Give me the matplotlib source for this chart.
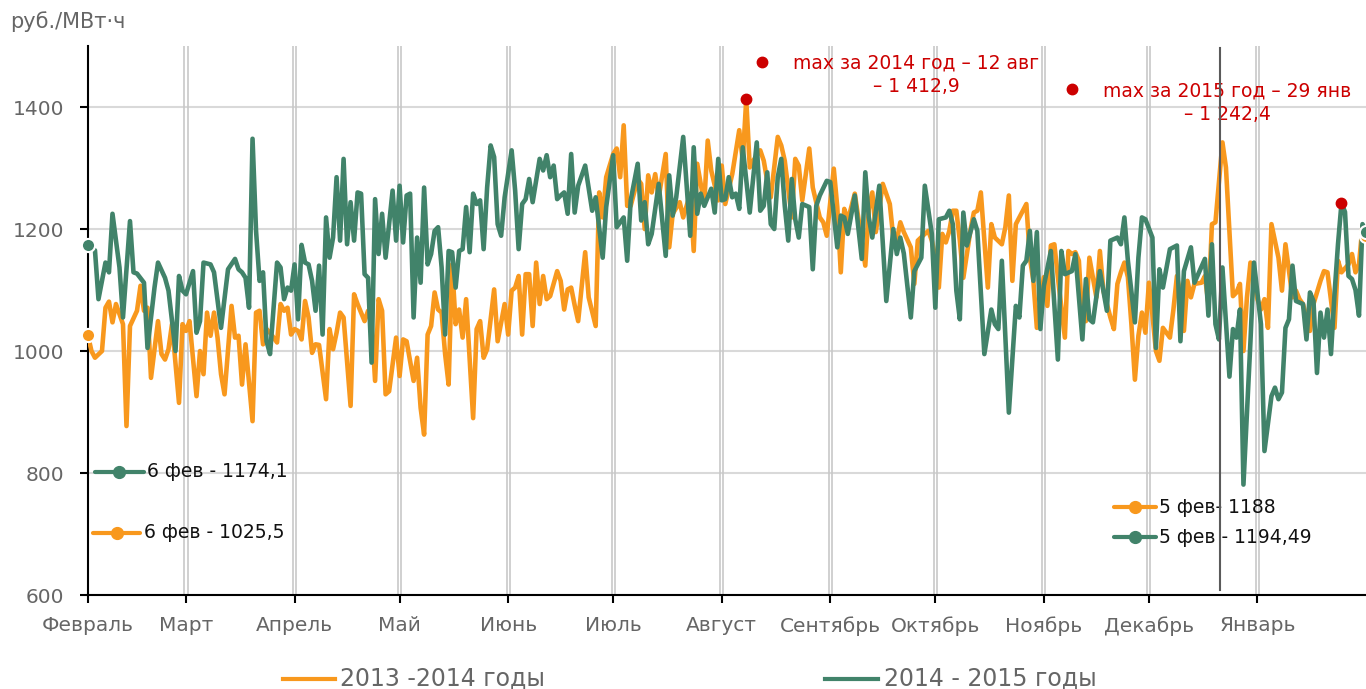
import matplotlib
matplotlib.use("Agg")
import matplotlib.pyplot as plt
import numpy as np
import pandas as pd

plt.rcParams['font.family'] = ['DejaVu Sans']

# day offsets from 6 Feb and prices, руб./МВт·ч
orange_days = [0, 1, 2, 4, 5, 6, 7, 8, 10, 11, 12, 14, 15, 16, 17, 18, 20, 21, 22, 23, 24, 26, 27, 28, 29,
               31, 32, 33, 34, 35, 36, 37, 38, 39, 41, 42, 43, 44, 45, 47, 48, 49, 50, 51, 52, 54, 55, 56,
               57, 58, 59, 60, 61, 62, 63, 64, 65, 66, 68, 69, 70, 71, 72, 73, 75, 76, 77, 79, 80, 81, 82,
               83, 84, 85, 86, 88, 89, 90, 91, 93, 94, 95, 96, 97, 98, 99, 100, 101, 102, 103, 104, 105,
               106, 107, 108, 110, 111, 112, 113, 114, 116, 117, 118, 119, 120, 121, 122, 123, 124, 125,
               126, 127, 128, 129, 130, 131, 132, 134, 135, 136, 137, 138, 139, 140, 142, 143, 145, 146,
               147, 148, 150, 151, 152, 153, 154, 155, 157, 158, 159, 160, 161, 162, 163, 165, 166, 167,
               169, 170, 172, 173, 174, 176, 177, 178, 180, 181, 182, 184, 186, 187, 188, 189, 190, 192,
               193, 194, 195, 197, 198, 199, 201, 202, 203, 204, 206, 207, 209, 210, 211, 213, 214, 215,
               216, 217, 219, 220, 222, 223, 224, 225, 227, 229, 230, 231, 232, 233, 235, 236, 237, 239,
               240, 241, 242, 243, 244, 245, 246, 247, 248, 249, 250, 252, 253, 254, 255, 257, 258, 259,
               261, 262, 263, 264, 265, 267, 268, 269, 270, 271, 273, 274, 275, 276, 277, 279, 280, 281,
               282, 283, 284, 285, 286, 287, 288, 289, 290, 292, 293, 294, 295, 296, 297, 298, 299, 300,
               301, 302, 303, 304, 305, 306, 307, 309, 310, 311, 312, 313, 314, 315, 316, 318, 319, 320,
               321, 322, 324, 325, 326, 327, 328, 329, 330, 331, 332, 334, 335, 336, 337, 338, 340, 341,
               342, 344, 345, 346, 347, 349, 350, 352, 353, 354, 356, 357, 358, 360, 361, 362, 363, 364, 365]
orange_vals = [1025.5, 1000, 989, 1000, 1071, 1081, 1047, 1077, 1044, 877, 1041, 1066, 1107, 1066, 1071, 956,
               1049, 995, 986, 1003, 1044, 915, 1044, 1033, 1049, 926, 1000, 962, 1063, 1025, 1063, 1022,
               962, 929, 1074, 1022, 1025, 945, 1011, 885, 1063, 1066, 1011, 1036, 1030, 1014, 1077, 1066,
               1071, 1027, 1036, 1033, 1019, 1082, 1055, 997, 1011, 1010, 921, 1036, 1003, 1030, 1063, 1055,
               910, 1093, 1077, 1049, 1066, 1049, 951, 1085, 1066, 929, 934, 1022, 959, 1019, 1016, 951,
               989, 907, 863, 1027, 1041, 1096, 1068, 1063, 995, 945, 1142, 1044, 1068, 1022, 1085, 890,
               1036, 1049, 989, 1003, 1101, 1016, 1047, 1077, 1027, 1099, 1104, 1123, 1027, 1126, 1126,
               1041, 1145, 1077, 1123, 1085, 1090, 1131, 1115, 1068, 1101, 1104, 1075, 1049, 1162, 1088,
               1041, 1260, 1219, 1285, 1323, 1332, 1285, 1370, 1238, 1238, 1282, 1274, 1200, 1288, 1260,
               1290, 1252, 1323, 1170, 1225, 1244, 1219, 1258, 1164, 1307, 1241, 1345, 1296, 1247, 1304,
               1241, 1290, 1362, 1312, 1412.9, 1301, 1312, 1329, 1312, 1279, 1252, 1351, 1337, 1312, 1219,
               1315, 1304, 1247, 1332, 1268, 1219, 1211, 1189, 1299, 1236, 1129, 1233, 1214, 1258, 1219,
               1140, 1233, 1260, 1195, 1274, 1241, 1186, 1181, 1211, 1195, 1170, 1110, 1181, 1192, 1197,
               1181, 1153, 1104, 1192, 1178, 1197, 1230, 1230, 1181, 1120, 1197, 1227, 1230, 1260, 1104,
               1208, 1186, 1175, 1203, 1255, 1115, 1208, 1230, 1241, 1153, 1115, 1038, 1121, 1074, 1173,
               1175, 1121, 1022, 1164, 1159, 1162, 1148, 1049, 1049, 1153, 1121, 1088, 1164, 1099, 1055,
               1036, 1110, 1129, 1145, 1121, 1044, 953, 1025, 1063, 1030, 1112, 1060, 1000, 984, 1038,
               1022, 1068, 1123, 1093, 1033, 1115, 1088, 1110, 1112, 1123, 1077, 1208, 1211, 1342, 1301,
               1197, 1090, 1096, 1110, 1000, 1088, 1145, 1085, 1068, 1085, 1038, 1208, 1153, 1099, 1175,
               1088, 1099, 1085, 1077, 1033, 1077, 1115, 1131, 1129, 1038, 1148, 1129, 1142, 1159, 1129,
               1142, 1205, 1188]

green_days = [0, 2, 3, 5, 6, 7, 9, 10, 12, 13, 14, 16, 17, 19, 20, 22, 23, 25, 26, 27, 28, 30, 31, 32, 33,
              35, 36, 38, 40, 42, 43, 44, 45, 46, 47, 48, 49, 50, 51, 52, 54, 55, 56, 57, 58, 59, 60, 61,
              62, 63, 64, 65, 66, 67, 68, 69, 70, 71, 72, 73, 74, 75, 76, 77, 78, 79, 80, 81, 82, 83, 84,
              85, 87, 88, 89, 90, 91, 92, 93, 94, 95, 96, 97, 98, 99, 100, 101, 102, 103, 104, 105, 106,
              107, 108, 109, 110, 111, 112, 113, 114, 115, 116, 117, 118, 119, 121, 122, 123, 124, 125,
              126, 127, 128, 129, 130, 131, 132, 133, 134, 135, 136, 137, 138, 139, 140, 142, 144, 145,
              147, 148, 150, 151, 153, 154, 155, 157, 158, 159, 160, 161, 163, 165, 166, 167, 168, 170,
              172, 173, 174, 175, 176, 178, 179, 180, 181, 182, 183, 184, 185, 186, 187, 189, 191, 192,
              193, 194, 195, 196, 197, 198, 199, 200, 201, 202, 203, 204, 206, 207, 208, 209, 211, 212,
              214, 215, 216, 217, 219, 221, 222, 223, 224, 226, 228, 230, 231, 232, 233, 235, 236, 238,
              239, 241, 242, 243, 245, 246, 247, 248, 249, 250, 251, 253, 254, 256, 258, 259, 260, 261,
              263, 265, 266, 267, 268, 269, 270, 271, 272, 273, 275, 277, 278, 279, 281, 282, 284, 285,
              286, 287, 289, 291, 292, 294, 295, 296, 297, 299, 300, 301, 302, 304, 305, 306, 307, 309,
              311, 312, 313, 315, 316, 319, 320, 321, 322, 323, 324, 326, 327, 328, 329, 330, 332, 333,
              335, 336, 338, 339, 340, 341, 342, 343, 344, 345, 347, 348, 349, 350, 351, 352, 353, 354,
              355, 356, 357, 358, 359, 360, 361, 362, 363, 364, 365]
green_vals = [1174.1, 1165, 1085, 1145, 1129, 1225, 1137, 1055, 1213, 1129, 1127, 1112, 1005, 1104, 1145, 1120,
              1099, 1000, 1123, 1099, 1093, 1131, 1030, 1049, 1145, 1142, 1129, 1038, 1134, 1151, 1134,
              1129, 1120, 1071, 1348, 1197, 1115, 1129, 1016, 995, 1145, 1137, 1085, 1104, 1099, 1142,
              1052, 1174, 1145, 1142, 1115, 1066, 1140, 1027, 1219, 1153, 1186, 1285, 1181, 1315, 1175,
              1244, 1181, 1260, 1258, 1126, 1120, 981, 1249, 1159, 1225, 1153, 1263, 1181, 1271, 1178,
              1255, 1258, 1055, 1186, 1112, 1268, 1142, 1159, 1197, 1203, 1137, 1027, 1164, 1162, 1104,
              1164, 1167, 1236, 1162, 1258, 1241, 1247, 1167, 1268, 1337, 1318, 1208, 1189, 1252, 1329,
              1263, 1167, 1241, 1249, 1282, 1244, 1279, 1315, 1296, 1321, 1285, 1304, 1249, 1255, 1260,
              1225, 1323, 1227, 1271, 1304, 1230, 1252, 1153, 1236, 1321, 1203, 1219, 1148, 1247, 1307,
              1214, 1244, 1175, 1192, 1274, 1156, 1288, 1222, 1252, 1351, 1189, 1334, 1225, 1258, 1238,
              1266, 1227, 1315, 1247, 1249, 1285, 1252, 1258, 1233, 1334, 1227, 1342, 1230, 1238, 1293,
              1208, 1200, 1285, 1315, 1238, 1181, 1282, 1216, 1186, 1241, 1236, 1134, 1238, 1255, 1279,
              1277, 1170, 1222, 1219, 1192, 1255, 1151, 1293, 1219, 1186, 1271, 1082, 1200, 1159, 1186,
              1160, 1055, 1131, 1153, 1271, 1192, 1071, 1216, 1219, 1230, 1208, 1099, 1052, 1227, 1173,
              1216, 1197, 995, 1068, 1044, 1036, 1148, 899, 1074, 1055, 1140, 1148, 1197, 1115, 1195,
              1036, 1107, 1164, 986, 1164, 1126, 1131, 1159, 1019, 1118, 1052, 1047, 1131, 1066, 1181,
              1186, 1175, 1219, 1148, 1047, 1153, 1219, 1216, 1186, 1005, 1134, 1104, 1167, 1173, 1016,
              1131, 1170, 1112, 1151, 1058, 1175, 1044, 1019, 1137, 958, 1036, 1022, 1068, 781, 1016,
              1145, 1044, 836, 926, 940, 921, 932, 1038, 1052, 1140, 1082, 1077, 1019, 1096, 1082, 964,
              1063, 1022, 1068, 995, 1093, 1175, 1242.4, 1228, 1123, 1118, 1100, 1058, 1208, 1194.49]

months = ['Февраль', 'Март', 'Апрель', 'Май', 'Июнь', 'Июль', 'Август', 'Сентябрь',
          'Октябрь', 'Ноябрь', 'Декабрь', 'Январь']
start = pd.Timestamp('2014-02-06')
month_pos = [(d - start).days for d in pd.date_range(start, periods=12, freq=pd.DateOffset(months=1))]
new_year = (pd.Timestamp('2015-01-01') - start).days

ORANGE = '#F8981D'
GREEN = '#41836A'
RED = '#CC0000'
GREY = '#666666'
LW = 3.3

fig = plt.figure(figsize=(13.66, 6.89), dpi=100)
ax = fig.add_axes([0.0644, 0.1364, 0.9356, 0.7968])

# grid
for v in [600, 800, 1000, 1200, 1400]:
    ax.axhline(v, color='#d9d9d9', lw=1.5, zorder=0)
for p in month_pos[1:]:
    ax.axvline(p - 0.45, color='#c8c8c8', lw=1.2, zorder=0)
    ax.axvline(p + 0.45, color='#c8c8c8', lw=1.2, zorder=0)

ax.plot(orange_days, orange_vals, color=ORANGE, lw=LW, solid_joinstyle='round', zorder=3)
ax.plot(green_days, green_vals, color=GREEN, lw=LW, solid_joinstyle='round', zorder=4)

# end markers
for days, vals, c in [(orange_days, orange_vals, ORANGE), (green_days, green_vals, GREEN)]:
    ax.plot([days[0], days[-1]], [vals[0], vals[-1]], 'o', ms=9.5, color=c,
            mec='white', mew=1.5, zorder=6, clip_on=False)

# maxima: whole 2013-2014 series, and 2015 part of the green one
oi = int(np.argmax(orange_vals))
gd = np.array(green_days)
gv = np.where(gd >= new_year, green_vals, -np.inf)
gi = int(np.argmax(gv))
ax.plot(orange_days[oi], orange_vals[oi], 'o', ms=7.5, color=RED, zorder=7)
ax.plot(green_days[gi], green_vals[gi], 'o', ms=7.5, color=RED, zorder=7)

# cursor line
ax.plot([323.4, 323.4], [608, 1497], color='#5a5a5a', lw=1.5, zorder=5)

# max annotations
ax.plot(192.6, 1474, 'o', ms=7.5, color=RED, clip_on=False)
ax.text(236.6, 1453, 'max за 2014 год – 12 авг\n– 1 412,9', color=RED, fontsize=13.5,
        ha='center', va='center', linespacing=1.3)
ax.plot(280.9, 1429, 'o', ms=7.5, color=RED, clip_on=False)
ax.text(325.4, 1407, 'max за 2015 год – 29 янв\n– 1 242,4', color=RED, fontsize=13.5,
        ha='center', va='center', linespacing=1.3)

# inline legends
def key(x0, x1, y, c, label):
    ax.plot([x0, x1], [y, y], color=c, lw=3, solid_capstyle='round', zorder=6)
    ax.plot((x0 + x1) / 2, y, 'o', color=c, ms=8.5, zorder=7)
    ax.text(x1 + 1.0, y, label, fontsize=13.5, color='#111111', va='center', ha='left')

key(2.0, 16.0, 802, GREEN, '6 фев - 1174,1')
key(1.4, 15.0, 702, ORANGE, '6 фев - 1025,5')
key(293.0, 305.0, 744, ORANGE, '5 фев- 1188')
key(293.0, 305.0, 695, GREEN, '5 фев - 1194,49')

ax.set_xlim(0, 365)
ax.set_ylim(600, 1500)
ax.set_yticks([600, 800, 1000, 1200, 1400])
ax.set_xticks(month_pos)
ax.set_xticklabels(months)
ax.tick_params(axis='y', length=6, width=1.5, pad=11, labelsize=14.5, labelcolor=GREY)
ax.tick_params(axis='x', length=6, width=1.5, pad=9, labelsize=14.5, labelcolor=GREY)
for s in ['top', 'right']:
    ax.spines[s].set_visible(False)
for s in ['left', 'bottom']:
    ax.spines[s].set_linewidth(1.5)

fig.text(10 / 1366, 1 - 22 / 689, 'руб./МВт·ч', fontsize=15, color=GREY, va='center', ha='left')

# bottom legend
fig.add_artist(plt.Line2D([283 / 1366, 335 / 1366], [10 / 689, 10 / 689], color=ORANGE, lw=3))
fig.text(340 / 1366, 10 / 689, '2013 -2014 годы', fontsize=17, color=GREY, va='center', ha='left')
fig.add_artist(plt.Line2D([825 / 1366, 878 / 1366], [10 / 689, 10 / 689], color=GREEN, lw=3))
fig.text(884 / 1366, 10 / 689, '2014 - 2015 годы', fontsize=17, color=GREY, va='center', ha='left')

fig.savefig('out.png', dpi=100)
